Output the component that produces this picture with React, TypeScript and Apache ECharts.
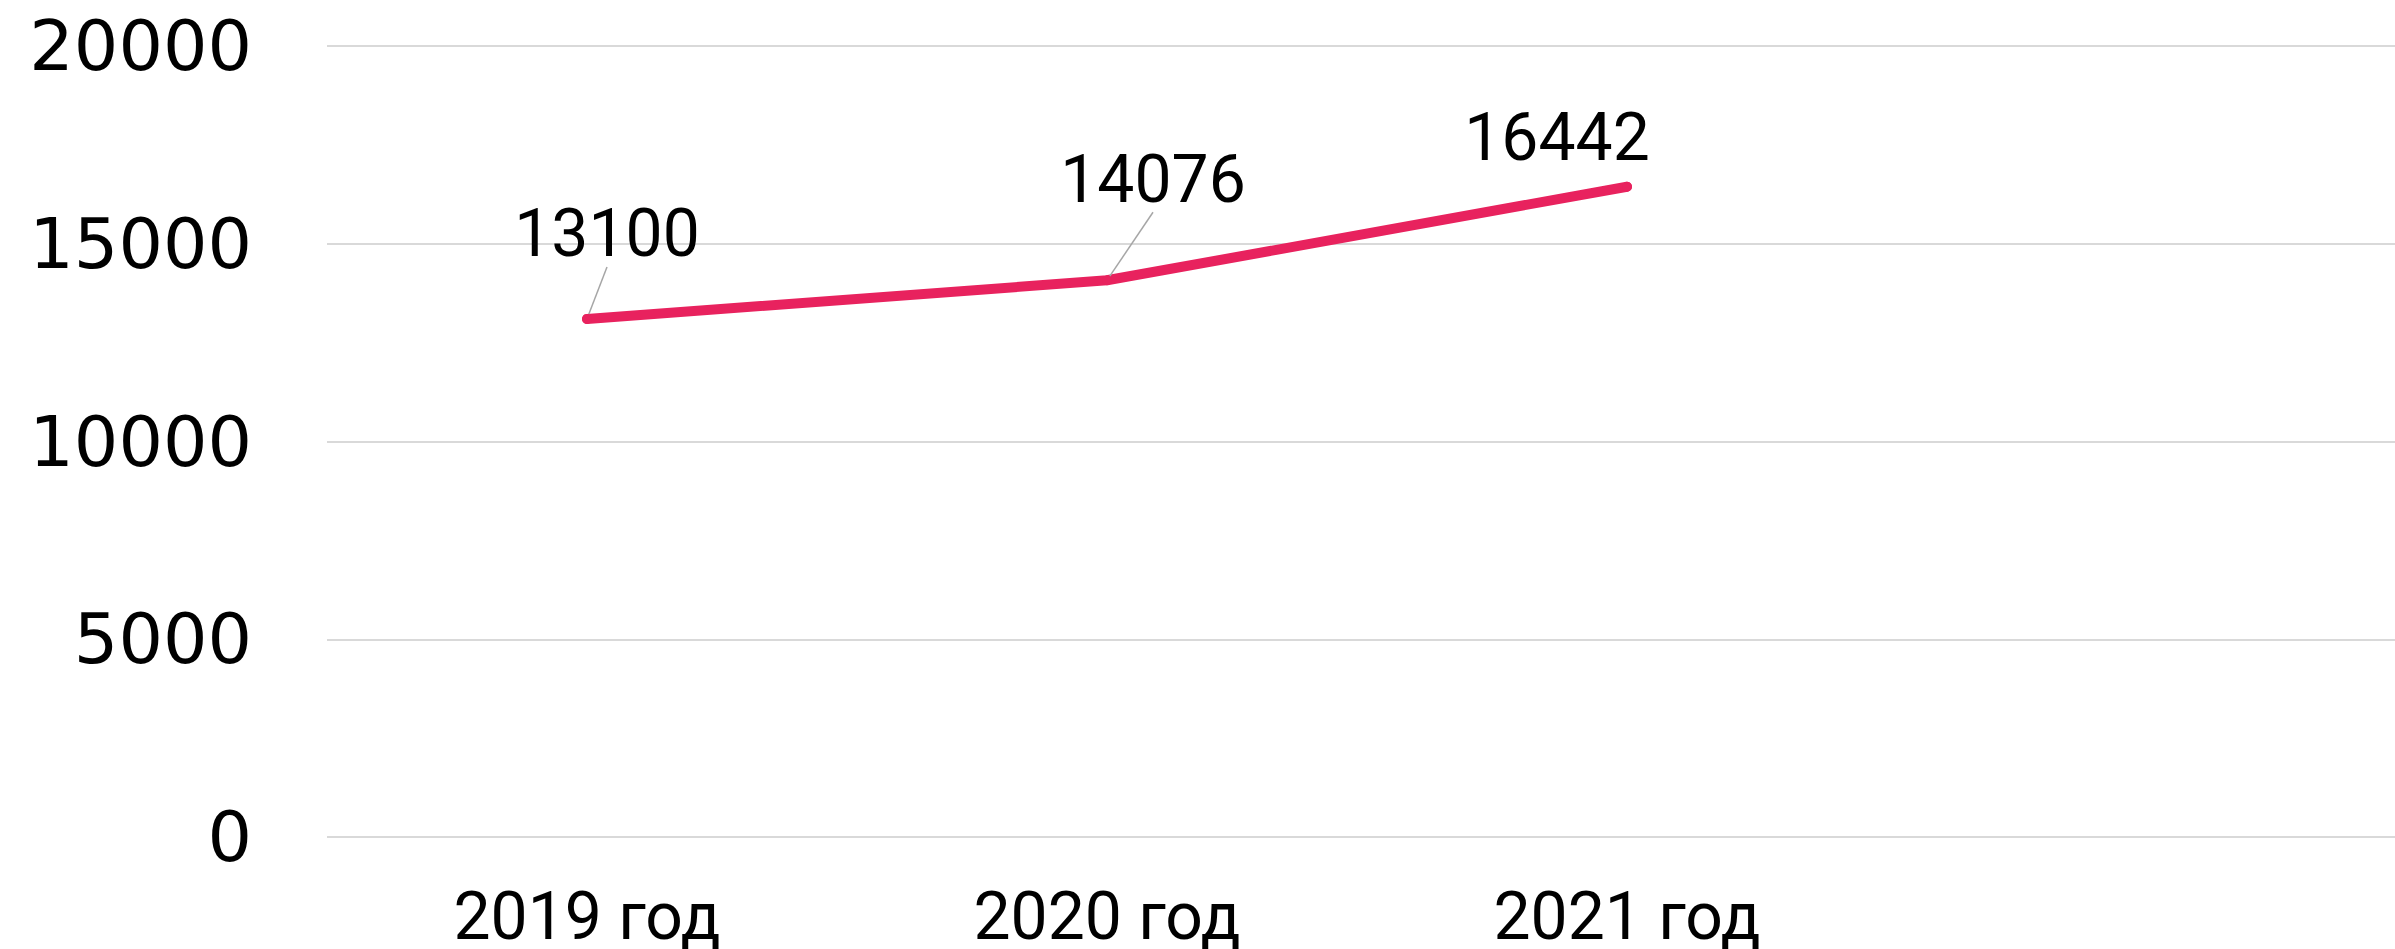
import React, { useEffect, useRef } from "react";
import * as echarts from "echarts";

const categories = ["2019 год", "2020 год", "2021 год", ""];
const values = [13100, 14076, 16442];
const yTicks = { min: 0, max: 20000, interval: 5000 };

export default function App() {
  const ref = useRef<HTMLDivElement>(null);
  useEffect(() => {
    if (!ref.current) return;
    const chart = echarts.init(ref.current, undefined, { renderer: "svg" });
    const yFont = "DejaVu Sans";
    const font = "Roboto";
    const offsets = [
      { dx: 20, dy: -42 },
      { dx: 46, dy: -58 },
      { dx: -70, dy: -6 },
    ];
    chart.setOption({
      animation: false,
      backgroundColor: "#ffffff",
      grid: { left: 327, right: 0, top: 46, bottom: 112, containLabel: false },
      xAxis: {
        type: "category",
        data: categories,
        boundaryGap: true,
        axisLine: { show: false },
        axisTick: { show: false },
        axisLabel: { color: "#000", fontSize: 66, fontFamily: font, margin: 46, interval: 0 },
        splitLine: { show: false },
      },
      yAxis: {
        type: "value",
        min: yTicks.min,
        max: yTicks.max,
        interval: yTicks.interval,
        axisLine: { show: false },
        axisTick: { show: false },
        axisLabel: {
          color: "#000",
          fontSize: 70,
          fontFamily: yFont,
          margin: 75,
          formatter: (v: number) => String(v),
        },
        splitLine: { show: true, lineStyle: { color: "#D9D9D9", width: 2 } },
      },
      series: [
        {
          type: "line",
          data: values.map((v, i) =>
            i === 2 ? { value: v, labelLine: { show: false } } : { value: v }
          ),
          showSymbol: true,
          symbol: "circle",
          symbolSize: 10,
          itemStyle: { color: "#E8225E" },
          lineStyle: { color: "#E8225E", width: 10, cap: "round", join: "round" },
          label: {
            show: true,
            position: "top",
            color: "#000",
            fontSize: 66,
            fontFamily: font,
          },
          labelLine: { show: true, lineStyle: { color: "#A6A6A6", width: 1.5 } },
          labelLayout: (params: any) => offsets[params.dataIndex] || {},
        },
      ],
    });
    return () => chart.dispose();
  }, []);
  return (
    <div
      ref={ref}
      style={{ position: "fixed", left: 0, top: 0, width: 2407, height: 949, background: "#fff" }}
    />
  );
}
